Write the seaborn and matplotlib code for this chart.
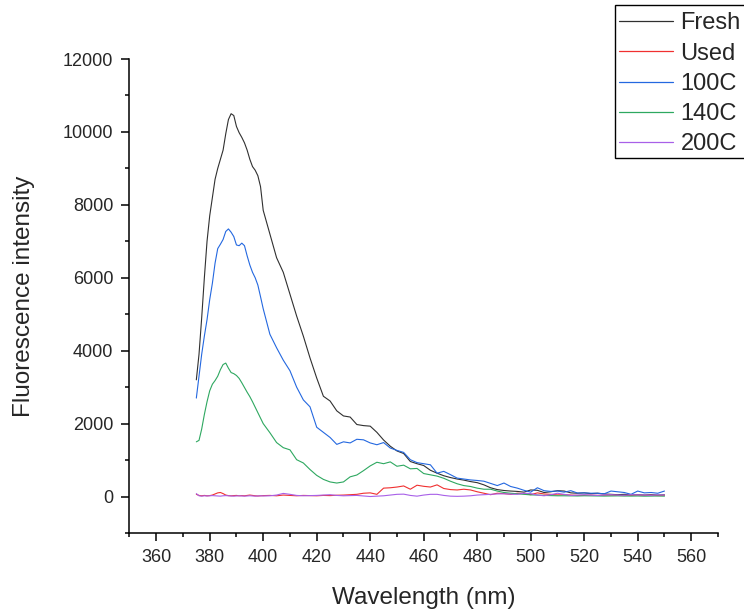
import numpy as np
import pandas as pd
import matplotlib
matplotlib.use("Agg")
import matplotlib.pyplot as plt
import matplotlib.patches as mpatches
import seaborn as sns
from matplotlib.ticker import MultipleLocator

# ---- data ----
wavelength = [375, 376, 377, 378, 379, 380, 381, 382, 383, 384, 385, 386, 387, 388, 389, 390,
              391, 392, 393, 394, 395, 396, 397, 398, 399, 400,
              402.5, 405, 407.5, 410, 412.5, 415, 417.5, 420, 422.5, 425, 427.5, 430, 432.5, 435,
              437.5, 440, 442.5, 445, 447.5, 450, 452.5, 455, 457.5, 460, 462.5, 465, 467.5, 470,
              472.5, 475, 477.5, 480, 482.5, 485, 487.5, 490, 492.5, 495, 497.5, 500, 502.5, 505,
              507.5, 510, 512.5, 515, 517.5, 520, 522.5, 525, 527.5, 530, 532.5, 535, 537.5, 540,
              542.5, 545, 547.5, 550]

fresh = [3200, 3900, 4900, 6000, 7000, 7700, 8200, 8700, 9000, 9250, 9500, 9950, 10340, 10500, 10450, 10150,
         9980, 9850, 9700, 9500, 9250, 9050, 8950, 8800, 8500, 7850,
         7200, 6550, 6150, 5550, 4950, 4400, 3800, 3250, 2750, 2620, 2350, 2210, 2180, 1975,
         1945, 1930, 1760, 1550, 1380, 1250, 1180, 960, 900, 850, 720, 640, 570, 520,
         480, 450, 410, 380, 320, 240, 190, 165, 150, 140, 120, 180, 170, 110,
         130, 160, 150, 100, 90, 100, 80, 90, 70, 60, 50, 60, 45, 50,
         40, 50, 40, 45]

used = [60, 30, 20, 30, 20, 25, 40, 70, 100, 110, 80, 40, 25, 20, 25, 30,
        20, 25, 20, 30, 40, 30, 20, 15, 20, 25,
        30, 20, 40, 30, 20, 30, 25, 20, 30, 25, 35, 40, 50, 60,
        90, 100, 60, 230, 240, 260, 290, 200, 310, 280, 260, 320, 220, 190,
        180, 200, 180, 130, 90, 50, 90, 80, 60, 90, 80, 50, 100, 70,
        60, 45, 50, 40, 30, 35, 40, 30, 35, 40, 30, 25, 35, 40,
        30, 35, 25, 30]

c100 = [2700, 3300, 3900, 4400, 4850, 5400, 5850, 6400, 6800, 6920, 7050, 7270, 7340, 7250, 7130, 6900,
        6880, 6950, 6880, 6600, 6350, 6150, 6000, 5800, 5480, 5150,
        4450, 4080, 3740, 3450, 3000, 2650, 2460, 1900, 1760, 1620, 1430, 1500, 1470, 1570,
        1555, 1470, 1420, 1480, 1330, 1265, 1210, 1010, 930, 900, 870, 640, 690, 600,
        505, 480, 455, 440, 420, 360, 300, 370, 275, 230, 170, 120, 240, 160,
        140, 150, 120, 160, 95, 100, 90, 90, 75, 150, 130, 110, 60, 150,
        100, 110, 90, 150]

c140 = [1500, 1540, 1850, 2250, 2600, 2900, 3080, 3180, 3300, 3480, 3620, 3660, 3520, 3400, 3370, 3320,
        3240, 3120, 2990, 2860, 2740, 2600, 2450, 2300, 2150, 2000,
        1750, 1480, 1340, 1280, 1010, 920, 740, 580, 470, 400, 370, 400, 540, 590,
        710, 840, 940, 900, 950, 830, 860, 760, 770, 630, 595, 560, 500, 420,
        350, 300, 275, 230, 200, 200, 150, 110, 90, 75, 60, 45, 40, 30,
        25, 20, 20, 18, 15, 20, 18, 15, 12, 15, 18, 15, 12, 15,
        10, 12, 15, 10]

c200 = [80, 20, 10, 20, 15, 20, 25, 20, 15, 10, 20, 25, 20, 15, 10, 15,
        20, 15, 10, 15, 20, 15, 10, 15, 20, 15,
        20, 40, 85, 60, 30, 20, 25, 30, 40, 50, 30, 20, 25, 30,
        15, 0, 10, 20, 40, 60, 65, 30, 10, 40, 60, 60, 30, 10,
        5, 10, 20, 40, 50, 60, 70, 75, 65, 60, 90, 80, 40, 20,
        50, 90, 60, 30, 40, 50, 40, 30, 45, 50, 40, 35, 50, 45,
        40, 35, 45, 40]

series_names = ["Fresh", "Used", "100C", "140C", "200C"]
series_values = [fresh, used, c100, c140, c200]
colors = {"Fresh": "#303030", "Used": "#F03030", "100C": "#2468E0",
          "140C": "#2EA860", "200C": "#A860E8"}

rows = []
for name, vals in zip(series_names, series_values):
    for w, v in zip(wavelength, vals):
        rows.append({"Wavelength": w, "Intensity": v, "Sample": name})
df = pd.DataFrame(rows)

sns.set_style("ticks")
plt.rcParams["font.family"] = ["Liberation Sans", "DejaVu Sans"]

W, H = 744, 611
fig = plt.figure(figsize=(W / 100, H / 100), dpi=100)
ax = fig.add_axes([0.174, 0.1277, 0.965 - 0.174, 0.9034 - 0.1277])

sns.lineplot(data=df, x="Wavelength", y="Intensity", hue="Sample",
             hue_order=series_names, palette=colors, linewidth=0.8,
             estimator=None, sort=False, ax=ax, legend=True)

ax.set_xlim(350, 570)
ax.set_ylim(-1000, 12000)
ax.xaxis.set_minor_locator(MultipleLocator(10))
ax.yaxis.set_minor_locator(MultipleLocator(1000))
ax.set_xticks(np.arange(360, 561, 20))
ax.set_yticks(np.arange(0, 12001, 2000))

for s in ["top", "right"]:
    ax.spines[s].set_visible(False)
for s in ["left", "bottom"]:
    ax.spines[s].set_linewidth(1.1)
    ax.spines[s].set_color("black")

ax.tick_params(which="major", length=6, width=1.1, labelsize=13, pad=5.5, color="black")
ax.tick_params(which="minor", length=3, width=1.1, color="black")

ax.set_xlabel("Wavelength (nm)", fontsize=17.5, labelpad=15)
ax.set_ylabel("Fluorescence intensity", fontsize=17.5, labelpad=20)

# legend: opaque box whose right edge runs past the figure edge
frame = mpatches.Rectangle((615 / W, 1 - 158 / H), (770 - 615) / W, (158 - 5) / H,
                           transform=fig.transFigure, facecolor="white",
                           edgecolor="black", linewidth=1.0, zorder=4, clip_on=False)
fig.add_artist(frame)

handles, labels = ax.get_legend_handles_labels()
ax.get_legend().remove()
leg = fig.legend(handles, labels, loc="upper left",
                 bbox_to_anchor=(619 / W, 1 - 12.3 / H),
                 bbox_transform=fig.transFigure,
                 fontsize=17, frameon=False, borderpad=0, labelspacing=0.35,
                 handlelength=2.3, handletextpad=0.3, borderaxespad=0)
leg.set_zorder(5)
for line in leg.get_lines():
    line.set_linewidth(0.9)

fig.savefig("out.png", dpi=100)
